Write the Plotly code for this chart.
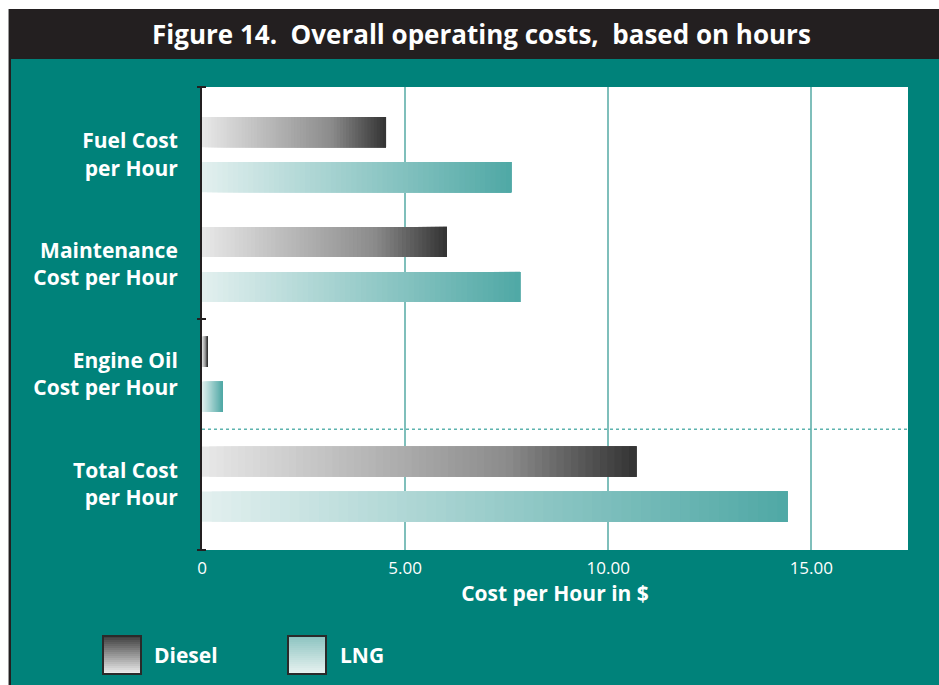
import plotly.graph_objects as go

categories = ["Fuel Cost<br>per Hour", "Maintenance<br>Cost per Hour",
              "Engine Oil<br>Cost per Hour", "Total Cost<br>per Hour"]
diesel = [4.53, 6.03, 0.14, 10.69]
lng = [7.61, 7.83, 0.51, 14.41]
tick_vals = [0, 5, 10, 15]
tick_text = ["0", "5.00", "10.00", "15.00"]

TEAL = "#00827a"
DARK = "#231f20"
W, H = 939, 685
L, R, T, B = 202, 908, 87, 550


def px(x):
    return (x - L) / (R - L)


def py(y):
    return (B - y) / (B - T)


def hex2rgb(h):
    h = h.lstrip("#")
    return [int(h[i:i + 2], 16) for i in (0, 2, 4)]


def grad(stops, t):
    # stops: list of (pos, hex)
    for (p0, c0), (p1, c1) in zip(stops[:-1], stops[1:]):
        if t <= p1:
            f = (t - p0) / (p1 - p0)
            a, b = hex2rgb(c0), hex2rgb(c1)
            return "rgb(%d,%d,%d)" % tuple(round(a[i] + (b[i] - a[i]) * f) for i in range(3))
    return "rgb(%d,%d,%d)" % tuple(hex2rgb(stops[-1][1]))


diesel_stops = [(0, "#e8e8e8"), (0.7, "#8c8c8c"), (1, "#333333")]
lng_stops = [(0, "#e3f0ef"), (1, "#4fa8a5")]

fig = go.Figure()

N = 60
for vals, stops, off in [(diesel, diesel_stops, -0.342), (lng, lng_stops, 0.068)]:
    for k in range(N):
        base = [v * k / N for v in vals]
        fig.add_trace(go.Bar(
            y=categories, x=[v - b for v, b in zip(vals, base)], base=base,
            orientation="h", width=0.274, offset=off,
            marker=dict(color=grad(stops, (k + 0.5) / N), line=dict(width=0)),
            showlegend=False, hoverinfo="skip"
        ))

fig.update_xaxes(
    range=[0, 17.38], tickvals=tick_vals, ticktext=tick_text,
    showgrid=True, gridcolor="#7fbfbb", gridwidth=2,
    zeroline=False, showline=False, ticks="",
    ticklabelstandoff=6,
    tickfont=dict(family="Open Sans", size=17, color="white"),
    title=dict(text="Cost per Hour in $", standoff=8,
               font=dict(family="Open Sans", size=21, color="white", weight="bold")),
    fixedrange=True
)
fig.update_yaxes(
    range=[3.60, -0.616], showgrid=False, zeroline=False,
    showline=True, linecolor=DARK, linewidth=2, ticks="",
    ticklabelstandoff=18,
    tickfont=dict(family="Open Sans", size=21, color="white", weight="bold"),
    fixedrange=True
)

shapes = [
    # white page edges
    dict(type="rect", xref="paper", yref="paper", x0=px(0), x1=px(W), y0=py(0), y1=py(9),
         fillcolor="white", line_width=0),
    dict(type="rect", xref="paper", yref="paper", x0=px(0), x1=px(8), y0=py(0), y1=py(H),
         fillcolor="white", line_width=0),
    dict(type="rect", xref="paper", yref="paper", x0=px(8), x1=px(9), y0=py(9), y1=py(H),
         fillcolor="#9a9a9a", line_width=0),
    dict(type="rect", xref="paper", yref="paper", x0=px(9), x1=px(11), y0=py(9), y1=py(H),
         fillcolor=DARK, line_width=0),
    # title bar
    dict(type="rect", xref="paper", yref="paper", x0=px(9), x1=px(W), y0=py(9), y1=py(59),
         fillcolor=DARK, line_width=0),
    # dotted separator
    dict(type="line", xref="paper", yref="y", x0=0, x1=1, y0=2.5, y1=2.5,
         line=dict(color="#5db3ae", width=1.5, dash="dot")),
]
# axis caps
for yy in [py(T), py(319), py(B)]:
    shapes.append(dict(type="line", xref="paper", yref="paper", x0=px(197), x1=px(206),
                       y0=yy, y1=yy, line=dict(color=DARK, width=2)))

# legend swatches with vertical gradient
legend_items = [("Diesel", 103, [(0, "#3c3c3c"), (1, "#f0f0f0")]),
                ("LNG", 288, [(0, "#8bc3c0"), (1, "#e9f3f1")])]
n_strips = 19
for name, x0, stops in legend_items:
    top, bot = 636, 674
    for i in range(n_strips):
        ya = top + (bot - top) * i / n_strips
        yb = top + (bot - top) * (i + 1) / n_strips
        shapes.append(dict(type="rect", xref="paper", yref="paper",
                           x0=px(x0), x1=px(x0 + 38), y0=py(yb), y1=py(ya),
                           fillcolor=grad(stops, (i + 0.5) / n_strips), line_width=0))
    shapes.append(dict(type="rect", xref="paper", yref="paper",
                       x0=px(x0), x1=px(x0 + 38), y0=py(bot), y1=py(top),
                       line=dict(color="#2a2a2a", width=2)))

annotations = [
    dict(text="Figure 14.&nbsp; Overall operating costs,&nbsp; based on hours",
         xref="paper", yref="paper", x=px(481), y=py(34), showarrow=False,
         xanchor="center", yanchor="middle",
         font=dict(family="Open Sans", size=26, color="white", weight="bold")),
    dict(text="Diesel", xref="paper", yref="paper", x=px(152), y=py(655), showarrow=False,
         xanchor="left", yanchor="middle",
         font=dict(family="Open Sans", size=21, color="white", weight="bold")),
    dict(text="LNG", xref="paper", yref="paper", x=px(338), y=py(655), showarrow=False,
         xanchor="left", yanchor="middle",
         font=dict(family="Open Sans", size=21, color="white", weight="bold")),
]

fig.update_layout(
    width=W, height=H,
    barmode="overlay",
    paper_bgcolor=TEAL, plot_bgcolor="white",
    margin=dict(l=L, r=W - R, t=T, b=H - B, pad=0),
    shapes=shapes, annotations=annotations,
    showlegend=False,
)

fig.write_html("out.html", config={"displayModeBar": False},
               post_script="document.body.style.margin='0';")
